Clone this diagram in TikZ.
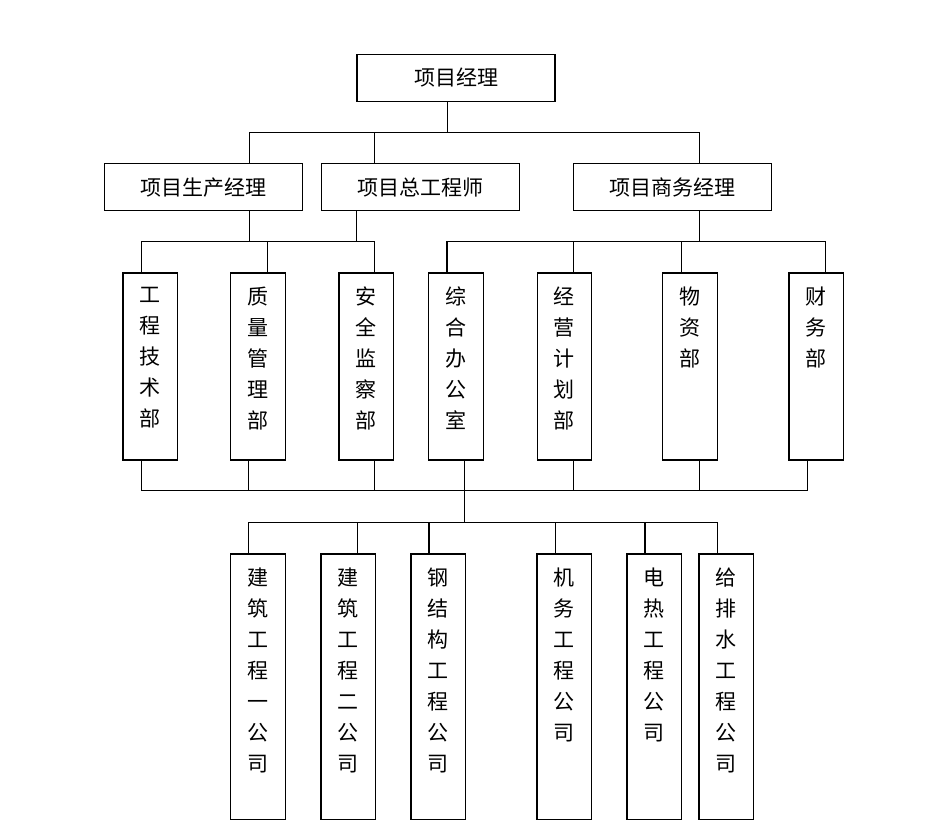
\documentclass[tikz,border=0pt]{standalone}
\usepackage{fontspec}
\newfontfamily\cjk{Noto Sans CJK SC}
\tikzset{
  hbox/.style={draw,minimum width=198pt,minimum height=47pt,inner sep=0pt,font=\cjk\fontsize{21}{24}\selectfont},
  vbox/.style={draw,minimum width=54.5pt,inner sep=0pt},
  vlab/.style={anchor=north,align=center,inner sep=0pt,yshift=-14pt,font=\cjk\fontsize{21}{31}\selectfont}
}
\begin{document}
\begin{tikzpicture}[x=1pt,y=-1pt,line width=1.2pt,line cap=rect,line join=miter]
	\useasboundingbox (0,0) rectangle (926,830);
	% boxes
	\node[hbox] (pm) at (456,78) {项目经理};
	\node[hbox] (sc) at (203.8,187.2) {项目生产经理};
	\node[hbox] (zg) at (420.3,187.2) {项目总工程师};
	\node[hbox] (sw) at (672.1,187.2) {项目商务经理};
	\foreach \n/\x/\t in
	{jsb/150.2/工\\程\\技\\术\\部, zlb/258/质\\量\\管\\理\\部, aqb/366.2/安\\全\\监\\察\\部,
	 zhb/456/综\\合\\办\\公\\室, jyb/564.4/经\\营\\计\\划\\部, wzb/690/物\\资\\部, cwb/816.2/财\\务\\部}
	\node[vbox,minimum height=187pt,label={[vlab]north:\t}] (\n) at (\x,366.5) {};
	\foreach \n/\x/\t in
	{jz1/258/建\\筑\\工\\程\\一\\公\\司, jz2/348.2/建\\筑\\工\\程\\二\\公\\司, ggj/438.2/钢\\结\\构\\工\\程\\公\\司,
	 jw/564.2/机\\务\\工\\程\\公\\司, dr/654.2/电\\热\\工\\程\\公\\司, gps/726.2/给\\排\\水\\工\\程\\公\\司}
	\node[vbox,minimum height=265.3pt,label={[vlab]north:\t}] (\n) at (\x,686.7) {};
	% junctions
	\path
	(447.3,132.3) coordinate (a0)
	(249.6,132.3) coordinate (a1)
	(374.6,132.3) coordinate (a2)
	(699.1,132.3) coordinate (a3)
	(249.6,241.7) coordinate (r1)
	(356.7,241.7) coordinate (r2)
	(699.1,241.7) coordinate (r3)
	(141.2,241.7) coordinate (b1)
	(267.2,241.7) coordinate (b2)
	(374.8,241.7) coordinate (b3)
	(447,241.7) coordinate (b4)
	(573.6,241.7) coordinate (b5)
	(681.7,241.7) coordinate (b6)
	(825.6,241.7) coordinate (b7)
	(141.2,490.5) coordinate (c1)
	(248.8,490.5) coordinate (c2)
	(374.8,490.5) coordinate (c3)
	(573.6,490.5) coordinate (c5)
	(699.6,490.5) coordinate (c6)
	(807.7,490.5) coordinate (c7)
	(464.5,522.7) coordinate (d0)
	(248.6,522.7) coordinate (d1)
	(357.1,522.7) coordinate (d2)
	(428.9,522.7) coordinate (d3)
	(555.7,522.7) coordinate (d4)
	(645,522.7) coordinate (d5)
	(717.1,522.7) coordinate (d6)
	;
	% connectors
	\draw (pm.south -| a0)--(a0);
	\draw (sc.north -| a1)--(a1)--(a3)--(sw.north -| a3) (a2)--(zg.north -| a2);
	\draw (sc.south -| r1)--(r1) (zg.south -| r2)--(r2) (sw.south -| r3)--(r3);
	\draw (jsb.north -| b1)--(b1)--(b3)--(aqb.north -| b3) (b2)--(zlb.north -| b2);
	\draw (zhb.north -| b4)--(b4)--(b7)--(cwb.north -| b7);
	\foreach \n/\c in {jyb/b5,wzb/b6}
	\draw (\c)--(\n.north -| \c);
	\draw (jsb.south -| c1)--(c1)--(c7)--(cwb.south -| c7);
	\foreach \n/\c in {zlb/c2,aqb/c3,jyb/c5,wzb/c6}
	\draw (\n.south -| \c)--(\c);
	\draw (zhb.south -| d0)--(d0);
	\draw (jz1.north -| d1)--(d1)--(d6)--(gps.north -| d6);
	\foreach \n/\c in {jz2/d2,ggj/d3,jw/d4,dr/d5}
	\draw (\c)--(\n.north -| \c);
\end{tikzpicture}
\end{document}
